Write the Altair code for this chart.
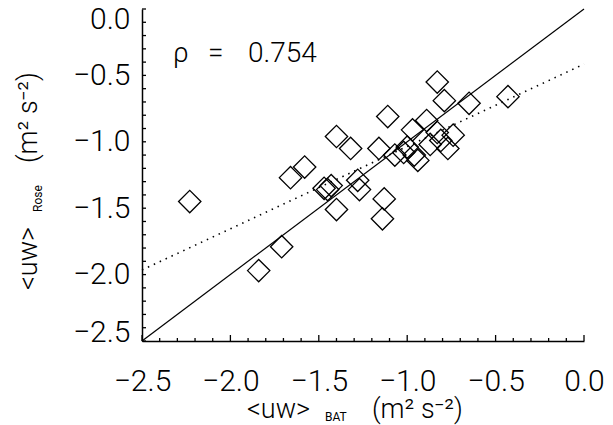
import altair as alt
import pandas as pd

# ---- data ----
x_bat = [-2.23, -1.84, -1.71, -1.66, -1.58, -1.40, -1.32, -1.47, -1.45, -1.43,
         -1.40, -1.28, -1.27, -1.11, -1.16, -1.13, -1.14, -0.83, -0.79, -0.65,
         -0.43, -0.89, -0.97, -0.83, -0.74, -0.77, -0.94, -1.00, -1.02, -1.07,
         -0.87, -0.96, -0.81]
y_rose = [-1.45, -1.97, -1.79, -1.27, -1.19, -0.96, -1.05, -1.35, -1.36, -1.33,
          -1.51, -1.29, -1.36, -0.81, -1.05, -1.43, -1.58, -0.55, -0.69, -0.71,
          -0.66, -0.84, -0.91, -0.93, -0.95, -1.05, -1.14, -1.04, -1.08, -1.10,
          -1.02, -1.10, -0.99]
fit_x = [-2.5, 0.0]
fit_y = [-1.965, -0.415]
one_x = [-2.5, 0.0]
one_y = [-2.5, 0.0]
major_ticks = [-2.5, -2.0, -1.5, -1.0, -0.5, 0.0]
minor_ticks = [-2.4, -2.3, -2.2, -2.1, -1.9, -1.8, -1.7, -1.6, -1.4, -1.3,
               -1.2, -1.1, -0.9, -0.8, -0.7, -0.6, -0.4, -0.3, -0.2, -0.1]
rho_value = "0.754"

W, H = 442, 332
FONT = "Roboto"
FW = 300

dom = [-2.5, 0.0]
xscale = alt.Scale(domain=dom, nice=False, zero=False)
yscale = alt.Scale(domain=dom, nice=False, zero=False)

xaxis = alt.Axis(values=major_ticks, format=".1f", ticks=False, grid=False,
                 labelFontSize=30, labelFont=FONT, labelFontWeight=FW, labelColor="black",
                 labelPadding=25, labelFlush=False, domainColor="black",
                 domainWidth=1.5, title=None)
yaxis = alt.Axis(values=major_ticks, format=".1f", ticks=False, grid=False,
                 labelFontSize=30, labelFont=FONT, labelFontWeight=FW, labelColor="black",
                 labelPadding=12, labelFlush=False, domainColor="black",
                 domainWidth=1.5, title=None,
                 labelOffset={"condition": [{"test": "datum.value > -0.01", "value": 10},
                                            {"test": "datum.value < -2.49", "value": -9}],
                              "value": 0})

def X(f):
    return alt.X(f, type="quantitative", scale=xscale, axis=xaxis)

def Y(f):
    return alt.Y(f, type="quantitative", scale=yscale, axis=yaxis)

pts = pd.DataFrame({"bat": x_bat, "rose": y_rose})
points = alt.Chart(pts).mark_point(shape="diamond", filled=False, size=500,
                                    color="black", strokeWidth=1.3, opacity=1).encode(
    x=X("bat"), y=Y("rose"))

one = alt.Chart(pd.DataFrame({"x": one_x, "y": one_y})).mark_line(
    color="black", strokeWidth=1.2).encode(x=X("x"), y=Y("y"))
fit = alt.Chart(pd.DataFrame({"x": fit_x, "y": fit_y})).mark_line(
    color="black", strokeWidth=1.6, strokeDash=[1.5, 5]).encode(x=X("x"), y=Y("y"))

majdf = pd.DataFrame({"v": major_ticks})
mindf = pd.DataFrame({"v": minor_ticks})
xmaj = alt.Chart(majdf).mark_rule(color="black", strokeWidth=1.3).encode(
    x=X("v"), y=alt.value(H), y2=alt.value(H - 6))
xmin = alt.Chart(mindf).mark_rule(color="black", strokeWidth=1.3).encode(
    x=X("v"), y=alt.value(H), y2=alt.value(H - 3))
ymaj = alt.Chart(majdf).mark_rule(color="black", strokeWidth=1.3).encode(
    y=Y("v"), x=alt.value(0), x2=alt.value(4))
ymin = alt.Chart(mindf).mark_rule(color="black", strokeWidth=1.3).encode(
    y=Y("v"), x=alt.value(0), x2=alt.value(4))

def txt(s, x, y, size, angle=0, weight=FW):
    return alt.Chart(pd.DataFrame({"t": [s]})).mark_text(
        font=FONT, fontSize=size, fontWeight=weight, color="black", align="left",
        baseline="alphabetic", angle=angle).encode(
        text="t:N", x=alt.value(x), y=alt.value(y))

# annotation
rho = [txt("ρ", 31, 53, 28), txt("=", 66, 53, 28), txt(rho_value, 106, 53, 28)]

# x title pieces
xt = [txt("<uw>", 105, 409, 27), txt("BAT", 183, 412, 12, weight=400),
      txt("(m²   s⁻²)", 230, 409, 27)]
# y title pieces (rotated)
yt = [txt("<uw>", -105, 281, 27, angle=270), txt("Rose", -100, 203, 12, angle=270, weight=400),
      txt("(m²   s⁻²)", -105, 154, 27, angle=270)]

chart = alt.layer(points, one, fit, xmaj, xmin, ymaj, ymin, *rho, *xt, *yt).properties(
    width=W, height=H,
    autosize=alt.AutoSizeParams(type="none"),
    padding={"left": 134, "top": 1, "right": 21, "bottom": 84},
).configure_view(stroke=None)

chart.save("out.html", embed_options={"renderer": "svg", "actions": False})
